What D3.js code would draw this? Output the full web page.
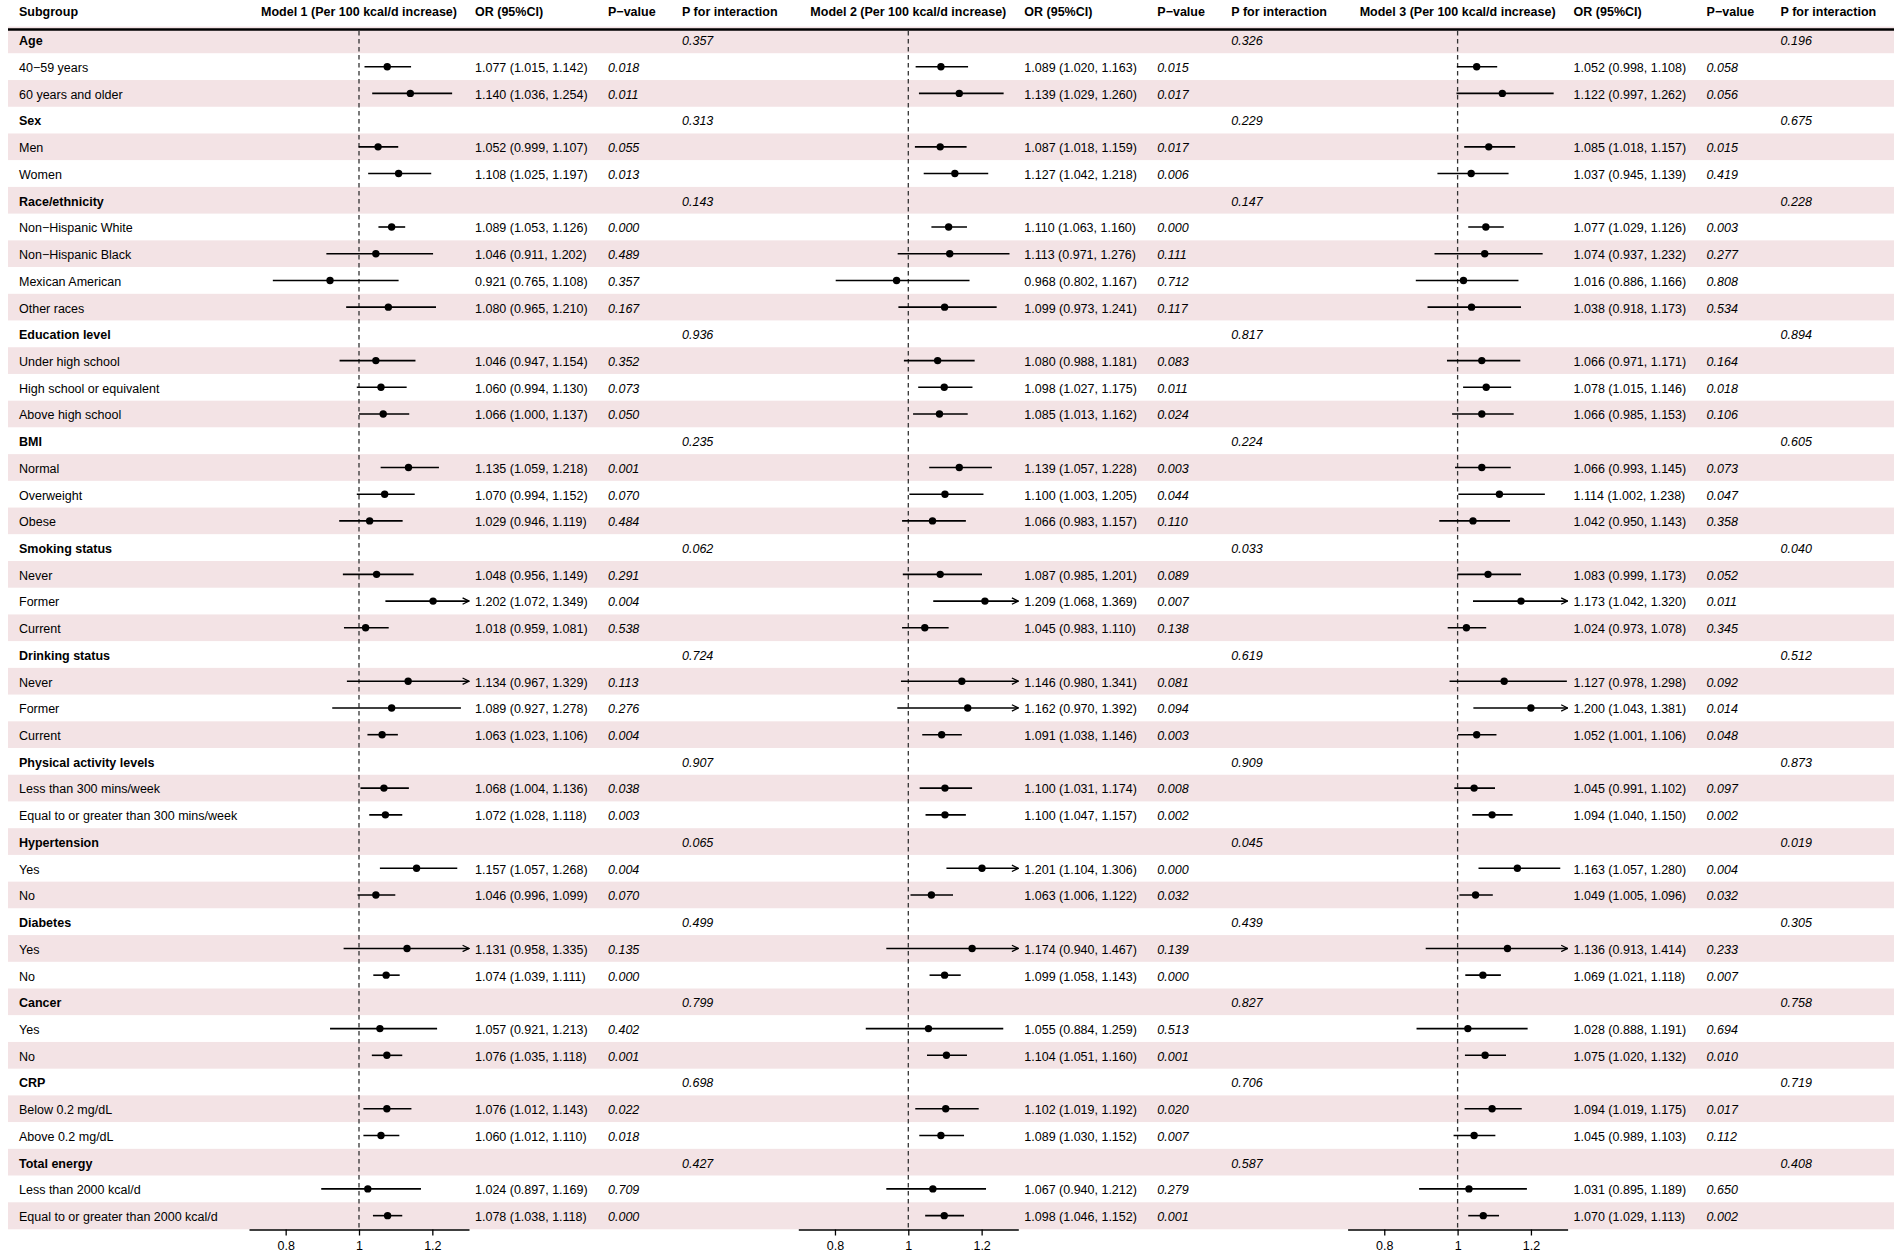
<!DOCTYPE html>
<html>
<head>
<meta charset="utf-8">
<script src="https://cdn.jsdelivr.net/npm/d3@7"></script>
<style>
  body { margin: 0; background: #fff; }
  svg text { font-family: "Liberation Sans", Arial, Helvetica, sans-serif; font-size: 12.5px; fill: #000; }
</style>
</head>
<body>
<div id="chart"></div>
<script>
// subgroup structure
var groups = ["Age", "Sex", "Race/ethnicity", "Education level", "BMI", "Smoking status",
  "Drinking status", "Physical activity levels", "Hypertension", "Diabetes", "Cancer", "CRP", "Total energy"];
var items = [
  ["40\u221259 years", "60 years and older"],
  ["Men", "Women"],
  ["Non\u2212Hispanic White", "Non\u2212Hispanic Black", "Mexican American", "Other races"],
  ["Under high school", "High school or equivalent", "Above high school"],
  ["Normal", "Overweight", "Obese"],
  ["Never", "Former", "Current"],
  ["Never", "Former", "Current"],
  ["Less than 300 mins/week", "Equal to or greater than 300 mins/week"],
  ["Yes", "No"],
  ["Yes", "No"],
  ["Yes", "No"],
  ["Below 0.2 mg/dL", "Above 0.2 mg/dL"],
  ["Less than 2000 kcal/d", "Equal to or greater than 2000 kcal/d"]
];

// Model 1
var m1Est  = [1.077,1.140, 1.052,1.108, 1.089,1.046,0.921,1.080, 1.046,1.060,1.066, 1.135,1.070,1.029, 1.048,1.202,1.018, 1.134,1.089,1.063, 1.068,1.072, 1.157,1.046, 1.131,1.074, 1.057,1.076, 1.076,1.060, 1.024,1.078];
var m1Low  = [1.015,1.036, 0.999,1.025, 1.053,0.911,0.765,0.965, 0.947,0.994,1.000, 1.059,0.994,0.946, 0.956,1.072,0.959, 0.967,0.927,1.023, 1.004,1.028, 1.057,0.996, 0.958,1.039, 0.921,1.035, 1.012,1.012, 0.897,1.038];
var m1High = [1.142,1.254, 1.107,1.197, 1.126,1.202,1.108,1.210, 1.154,1.130,1.137, 1.218,1.152,1.119, 1.149,1.349,1.081, 1.329,1.278,1.106, 1.136,1.118, 1.268,1.099, 1.335,1.111, 1.213,1.118, 1.143,1.110, 1.169,1.118];
var m1P    = ["0.018","0.011", "0.055","0.013", "0.000","0.489","0.357","0.167", "0.352","0.073","0.050", "0.001","0.070","0.484", "0.291","0.004","0.538", "0.113","0.276","0.004", "0.038","0.003", "0.004","0.070", "0.135","0.000", "0.402","0.001", "0.022","0.018", "0.709","0.000"];
var m1Int  = ["0.357","0.313","0.143","0.936","0.235","0.062","0.724","0.907","0.065","0.499","0.799","0.698","0.427"];

// Model 2
var m2Est  = [1.089,1.139, 1.087,1.127, 1.110,1.113,0.968,1.099, 1.080,1.098,1.085, 1.139,1.100,1.066, 1.087,1.209,1.045, 1.146,1.162,1.091, 1.100,1.100, 1.201,1.063, 1.174,1.099, 1.055,1.104, 1.102,1.089, 1.067,1.098];
var m2Low  = [1.020,1.029, 1.018,1.042, 1.063,0.971,0.802,0.973, 0.988,1.027,1.013, 1.057,1.003,0.983, 0.985,1.068,0.983, 0.980,0.970,1.038, 1.031,1.047, 1.104,1.006, 0.940,1.058, 0.884,1.051, 1.019,1.030, 0.940,1.046];
var m2High = [1.163,1.260, 1.159,1.218, 1.160,1.276,1.167,1.241, 1.181,1.175,1.162, 1.228,1.205,1.157, 1.201,1.369,1.110, 1.341,1.392,1.146, 1.174,1.157, 1.306,1.122, 1.467,1.143, 1.259,1.160, 1.192,1.152, 1.212,1.152];
var m2P    = ["0.015","0.017", "0.017","0.006", "0.000","0.111","0.712","0.117", "0.083","0.011","0.024", "0.003","0.044","0.110", "0.089","0.007","0.138", "0.081","0.094","0.003", "0.008","0.002", "0.000","0.032", "0.139","0.000", "0.513","0.001", "0.020","0.007", "0.279","0.001"];
var m2Int  = ["0.326","0.229","0.147","0.817","0.224","0.033","0.619","0.909","0.045","0.439","0.827","0.706","0.587"];

// Model 3
var m3Est  = [1.052,1.122, 1.085,1.037, 1.077,1.074,1.016,1.038, 1.066,1.078,1.066, 1.066,1.114,1.042, 1.083,1.173,1.024, 1.127,1.200,1.052, 1.045,1.094, 1.163,1.049, 1.136,1.069, 1.028,1.075, 1.094,1.045, 1.031,1.070];
var m3Low  = [0.998,0.997, 1.018,0.945, 1.029,0.937,0.886,0.918, 0.971,1.015,0.985, 0.993,1.002,0.950, 0.999,1.042,0.973, 0.978,1.043,1.001, 0.991,1.040, 1.057,1.005, 0.913,1.021, 0.888,1.020, 1.019,0.989, 0.895,1.029];
var m3High = [1.108,1.262, 1.157,1.139, 1.126,1.232,1.166,1.173, 1.171,1.146,1.153, 1.145,1.238,1.143, 1.173,1.320,1.078, 1.298,1.381,1.106, 1.102,1.150, 1.280,1.096, 1.414,1.118, 1.191,1.132, 1.175,1.103, 1.189,1.113];
var m3P    = ["0.058","0.056", "0.015","0.419", "0.003","0.277","0.808","0.534", "0.164","0.018","0.106", "0.073","0.047","0.358", "0.052","0.011","0.345", "0.092","0.014","0.048", "0.097","0.002", "0.004","0.032", "0.233","0.007", "0.694","0.010", "0.017","0.112", "0.650","0.002"];
var m3Int  = ["0.196","0.675","0.228","0.894","0.605","0.040","0.512","0.873","0.019","0.305","0.758","0.719","0.408"];

var modelNames = ["Model 1 (Per 100 kcal/d increase)", "Model 2 (Per 100 kcal/d increase)", "Model 3 (Per 100 kcal/d increase)"];
var tickValues = [0.8, 1, 1.2];
var tickLabels = ["0.8", "1", "1.2"];
var xDomain = [0.7, 1.3];

var models = [
  { est: m1Est, low: m1Low, high: m1High, p: m1P, pint: m1Int },
  { est: m2Est, low: m2Low, high: m2High, p: m2P, pint: m2Int },
  { est: m3Est, low: m3Low, high: m3High, p: m3P, pint: m3Int }
];

// flatten into table rows
var rows = [];
var k = 0;
groups.forEach(function(g, gi) {
  rows.push({ label: g, header: true, group: gi });
  items[gi].forEach(function(it) {
    rows.push({ label: it, header: false, idx: k });
    k++;
  });
});

var width = 1902, height = 1255;
var rowTop = 26.6, rowH = 26.72;
var panelStep = 549.3;
var pink = "#F3E3E5";

var svg = d3.select("#chart").append("svg")
  .attr("width", width)
  .attr("height", height);

var y = d3.scaleBand()
  .domain(d3.range(rows.length))
  .range([rowTop, rowTop + rows.length * rowH]);

// row backgrounds
svg.append("g").selectAll("rect")
  .data(rows)
  .join("rect")
  .attr("x", 8)
  .attr("width", 1894 - 8)
  .attr("y", function(d, i) { return y(i); })
  .attr("height", y.bandwidth() + 0.3)
  .attr("fill", function(d, i) { return i % 2 === 0 ? pink : "#fff"; });

// header
svg.append("line")
  .attr("x1", 8).attr("x2", 1894)
  .attr("y1", 29.5).attr("y2", 29.5)
  .attr("stroke", "#000").attr("stroke-width", 2.5);

var headerY = 12;
svg.append("text").attr("x", 19).attr("y", headerY).attr("dy", "0.35em")
  .attr("font-weight", "bold").text("Subgroup");

// subgroup labels
svg.append("g").selectAll("text")
  .data(rows)
  .join("text")
  .attr("x", 19)
  .attr("y", function(d, i) { return y(i) + y.bandwidth() / 2 + 1; })
  .attr("dy", "0.35em")
  .attr("font-weight", function(d) { return d.header ? "bold" : null; })
  .text(function(d) { return d.label; });

// arrow marker
svg.append("defs").append("marker")
  .attr("id", "arrow")
  .attr("viewBox", "0 0 10 10")
  .attr("refX", 9).attr("refY", 5)
  .attr("markerWidth", 8).attr("markerHeight", 8)
  .attr("markerUnits", "userSpaceOnUse")
  .attr("orient", "auto")
  .append("path")
  .attr("d", "M1,1 L9,5 L1,9")
  .attr("fill", "none")
  .attr("stroke", "#000")
  .attr("stroke-width", 1.6);

models.forEach(function(m, mi) {
  var off = mi * panelStep;
  var x = d3.scaleLinear().domain(xDomain).range([249 + off, 469 + off]);
  var g = svg.append("g");

  // column headers
  g.append("text").attr("x", x(1)).attr("y", headerY).attr("dy", "0.35em")
    .attr("text-anchor", "middle").attr("font-weight", "bold").text(modelNames[mi]);
  g.append("text").attr("x", 475 + off).attr("y", headerY).attr("dy", "0.35em")
    .attr("font-weight", "bold").text("OR (95%CI)");
  g.append("text").attr("x", 608 + off).attr("y", headerY).attr("dy", "0.35em")
    .attr("font-weight", "bold").text("P\u2212value");
  g.append("text").attr("x", 682 + off).attr("y", headerY).attr("dy", "0.35em")
    .attr("font-weight", "bold").text("P for interaction");

  // reference line
  g.append("line")
    .attr("x1", x(1)).attr("x2", x(1))
    .attr("y1", 31).attr("y2", y.range()[1])
    .attr("stroke", "#333").attr("stroke-width", 1.3)
    .attr("stroke-dasharray", "4.5,3.5");

  var sub = rows.filter(function(r) { return !r.header; });
  var subIdx = rows.map(function(r, i) { return i; }).filter(function(i) { return !rows[i].header; });
  var cy = function(d, j) { return y(subIdx[j]) + y.bandwidth() / 2; };

  // CI lines
  g.append("g").selectAll("line")
    .data(sub)
    .join("line")
    .attr("x1", function(d) { return x(Math.max(m.low[d.idx], xDomain[0])); })
    .attr("x2", function(d) { return x(Math.min(m.high[d.idx], xDomain[1])); })
    .attr("y1", cy).attr("y2", cy)
    .attr("stroke", "#000").attr("stroke-width", 1.6)
    .attr("marker-end", function(d) { return m.high[d.idx] > xDomain[1] ? "url(#arrow)" : null; });

  // points
  g.append("g").selectAll("circle")
    .data(sub)
    .join("circle")
    .attr("cx", function(d) { return x(m.est[d.idx]); })
    .attr("cy", cy)
    .attr("r", 3.7)
    .attr("fill", "#000");

  // OR text
  g.append("g").selectAll("text")
    .data(sub)
    .join("text")
    .attr("x", 475 + off)
    .attr("y", function(d, j) { return cy(d, j) + 1; })
    .attr("dy", "0.35em")
    .text(function(d) {
      return m.est[d.idx].toFixed(3) + " (" + m.low[d.idx].toFixed(3) + ", " + m.high[d.idx].toFixed(3) + ")";
    });

  // p-values
  g.append("g").selectAll("text")
    .data(sub)
    .join("text")
    .attr("x", 608 + off)
    .attr("y", function(d, j) { return cy(d, j) + 1; })
    .attr("dy", "0.35em")
    .attr("font-style", "italic")
    .text(function(d) { return m.p[d.idx]; });

  // p for interaction
  var hdr = rows.map(function(r, i) { return i; }).filter(function(i) { return rows[i].header; });
  g.append("g").selectAll("text")
    .data(hdr)
    .join("text")
    .attr("x", 682 + off)
    .attr("y", function(i) { return y(i) + y.bandwidth() / 2 + 1; })
    .attr("dy", "0.35em")
    .attr("font-style", "italic")
    .text(function(i) { return m.pint[rows[i].group]; });

  // axis
  var axis = d3.axisBottom(x)
    .tickValues(tickValues)
    .tickFormat(function(d, i) { return tickLabels[i]; })
    .tickSize(6)
    .tickSizeOuter(0)
    .tickPadding(6);
  var ag = g.append("g")
    .attr("transform", "translate(0," + (y.range()[1] + 0.5) + ")")
    .call(axis);
  ag.select(".domain").attr("stroke", "#000").attr("stroke-width", 1.3);
  ag.selectAll(".tick line").attr("stroke", "#000").attr("stroke-width", 1.3);
  ag.selectAll(".tick text")
    .attr("fill", "#000")
    .style("font-family", "\"Liberation Sans\", Arial, Helvetica, sans-serif")
    .style("font-size", "12.5px");
});
</script>
</body>
</html>
